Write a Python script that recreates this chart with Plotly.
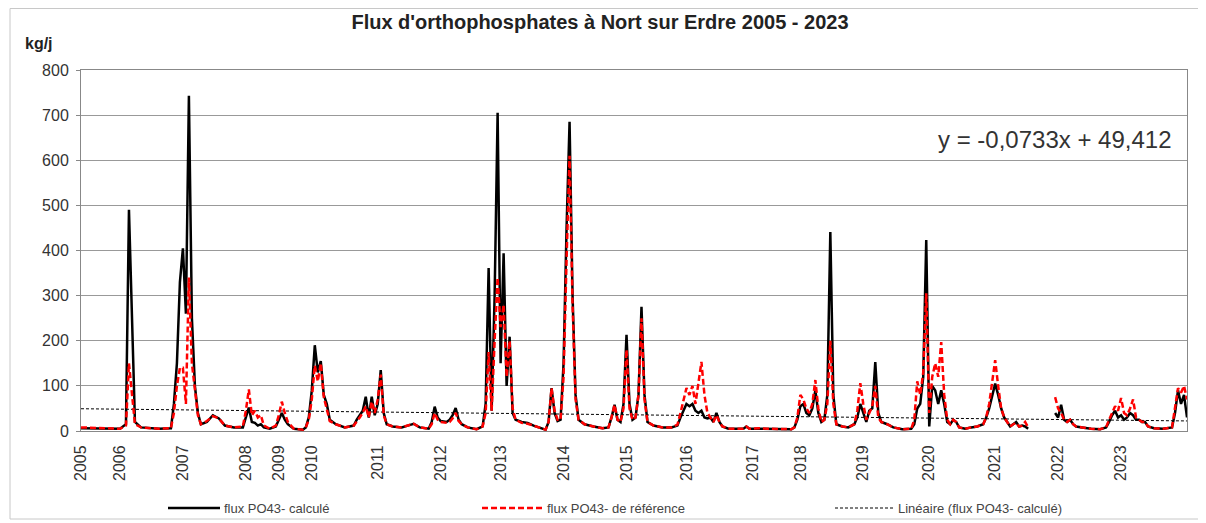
import plotly.graph_objects as go

# ---- data (sample number, values in kg/j) ----
years = ["2005", "2006", "2007", "2008", "2009", "2010", "2011", "2012", "2013", "2014",
         "2015", "2016", "2017", "2018", "2019", "2020", "2021", "2022", "2023"]
year_first_sample = [1, 14, 35, 56, 67, 78, 100, 121, 141, 162,
                     183, 203, 225, 241, 262, 284, 306, 327, 348]

sample_idx = [1, 7, 14, 16, 17, 19, 21, 27, 31, 32, 33, 34, 35, 36, 37, 38, 39, 40, 41, 43,
              45, 47, 49, 52, 55, 56, 57, 58, 59, 60, 61, 62, 64, 66, 67, 68, 69, 70, 72, 75,
              76, 77, 78, 79, 80, 81, 82, 83, 84, 86, 89, 92, 93, 94, 95, 96, 97, 98, 99, 100,
              101, 102, 103, 105, 108, 110, 112, 114, 117, 118, 119, 120, 121, 123, 124, 125, 126, 127, 128, 130,
              133, 135, 136, 137, 138, 139, 140, 141, 142, 143, 144, 145, 146, 148, 150, 152, 154, 156, 157, 158,
              159, 160, 161, 162, 163, 164, 165, 166, 167, 169, 172, 175, 177, 178, 179, 180, 181, 182, 183, 184,
              185, 186, 187, 188, 189, 190, 192, 195, 198, 200, 201, 202, 203, 204, 205, 206, 207, 208, 209, 210,
              211, 212, 213, 214, 215, 217, 222, 223, 224, 227, 230, 234, 238, 239, 240, 241, 242, 243, 244, 245,
              246, 247, 248, 249, 250, 251, 252, 253, 255, 257, 259, 260, 261, 262, 263, 264, 265, 266, 267, 268,
              270, 272, 275, 278, 279, 280, 281, 282, 283, 284, 285, 286, 287, 288, 289, 290, 291, 292, 293, 294,
              296, 298, 300, 302, 303, 304, 305, 306, 307, 308, 309, 310, 311, 312, 313, 314, 315, 316, 317, 318,
              326, 327, 328, 329, 330, 331, 332, 333, 335, 338, 341, 343, 344, 345, 346, 347, 348, 349, 350, 351,
              352, 353, 354, 355, 356, 357, 359, 362, 365, 366, 367, 368, 369, 370]

flux_calc = [6, 5, 5, 15, 490, 20, 8, 5, 6, 60, 150, 330, 405, 260, 743, 250, 100, 40, 15, 20,
             35, 28, 12, 8, 8, 30, 52, 20, 18, 12, 15, 8, 5, 10, 25, 40, 25, 15, 5, 3,
             8, 30, 90, 190, 130, 155, 80, 60, 25, 15, 8, 12, 25, 35, 45, 76, 30, 76, 35, 60,
             135, 40, 15, 10, 8, 12, 16, 8, 5, 20, 54, 30, 22, 20, 25, 35, 51, 25, 15, 8,
             4, 10, 60, 361, 45, 300, 705, 150, 394, 100, 209, 40, 25, 20, 18, 12, 8, 3, 20, 95,
             40, 22, 25, 150, 450, 685, 300, 80, 25, 15, 10, 6, 8, 30, 58, 25, 20, 60, 213, 60,
             25, 30, 80, 275, 80, 20, 12, 8, 8, 12, 30, 45, 60, 55, 60, 45, 40, 45, 30, 28,
             30, 20, 40, 20, 10, 5, 5, 10, 5, 5, 5, 4, 4, 8, 25, 55, 60, 40, 35, 50,
             90, 40, 20, 25, 80, 441, 80, 15, 10, 8, 15, 30, 60, 40, 20, 45, 50, 153, 40, 20,
             15, 8, 4, 5, 15, 50, 60, 120, 423, 10, 100, 90, 60, 90, 60, 20, 15, 25, 20, 8,
             5, 8, 10, 15, 30, 50, 80, 105, 80, 50, 30, 20, 10, 15, 20, 10, 12, 10, 5, None,
             40, 30, 58, 25, 20, 25, 15, 10, 8, 5, 4, 8, 20, 35, 45, 30, 35, 25, 30, 40,
             35, 25, 25, 20, 20, 10, 6, 5, 8, 40, 90, 60, 80, 30]

flux_ref = [8, 6, 5, 12, 150, 15, 8, 5, 6, 40, 100, 140, 140, 60, 340, 150, 90, 35, 15, 22,
            33, 28, 12, 8, 10, 45, 92, 35, 45, 30, 35, 12, 5, 12, 35, 65, 40, 20, 5, 3,
            8, 25, 70, 145, 110, 150, 75, 50, 22, 15, 8, 12, 20, 30, 40, 55, 30, 65, 40, 70,
            125, 35, 15, 10, 8, 12, 16, 8, 5, 15, 40, 25, 20, 18, 20, 28, 40, 22, 15, 8,
            4, 10, 40, 175, 45, 200, 340, 230, 280, 120, 200, 50, 25, 18, 16, 12, 8, 3, 20, 95,
            45, 25, 25, 120, 380, 610, 280, 70, 25, 15, 10, 6, 8, 30, 58, 25, 20, 50, 180, 50,
            25, 30, 80, 250, 70, 20, 12, 8, 8, 14, 40, 70, 95, 80, 100, 60, 110, 153, 80, 40,
            30, 20, 35, 20, 10, 5, 5, 10, 5, 6, 5, 4, 4, 8, 30, 80, 70, 50, 40, 60,
            113, 50, 20, 25, 60, 200, 60, 15, 10, 8, 15, 45, 106, 60, 25, 40, 55, 100, 30, 20,
            15, 8, 4, 5, 25, 110, 80, 130, 305, 40, 120, 150, 120, 197, 80, 25, 15, 25, 20, 8,
            5, 8, 10, 15, 30, 60, 110, 157, 100, 50, 30, 20, 10, 15, 18, 10, 12, 20, 8, None,
            75, 50, 40, 25, 20, 25, 15, 10, 8, 5, 4, 8, 25, 40, 55, 45, 73, 40, 35, 50,
            70, 30, 25, 20, 20, 10, 6, 5, 8, 50, 95, 85, 100, 70]

n_samples = 370
trend_slope = -0.0733
trend_intercept = 49.412

assert len(sample_idx) == len(flux_calc) == len(flux_ref)

trend_x = [1, n_samples]
trend_y = [trend_slope * x + trend_intercept for x in trend_x]

FONT = "Liberation Sans, Arial, sans-serif"

fig = go.Figure()
fig.add_trace(go.Scatter(x=trend_x, y=trend_y, mode="lines",
                         line=dict(color="#000000", width=1, dash="3px,2px"),
                         name="Linéaire (flux PO43- calculé)", showlegend=False))
fig.add_trace(go.Scatter(x=sample_idx, y=flux_calc, mode="lines", connectgaps=False,
                         line=dict(color="#000000", width=2.5),
                         name="flux PO43- calculé", showlegend=False))
fig.add_trace(go.Scatter(x=sample_idx, y=flux_ref, mode="lines", connectgaps=False,
                         line=dict(color="#ff0000", width=2.5, dash="6px,3px"),
                         name="flux PO43- de référence", showlegend=False))

# The page body adds an 8px offset; the figure is sized so that it fills the window.
OFF = 8
W, H = 1206 - OFF, 523 - OFF
# plot area in window pixels: x 81..1187, y 70..431
L, T = 81 - OFF, 70 - OFF
R = W - (1187 - OFF)
B = H - (431 - OFF)
PW, PH = W - L - R, H - T - B

def px(x):
    return (x - OFF - L) / PW

def py(y):
    return (H - B - (y - OFF)) / PH

shapes = [
    # outer chart frame
    dict(type="rect", xref="paper", yref="paper", x0=px(10), x1=px(1215), y0=py(519), y1=py(8.5),
         line=dict(color="#c8c8c8", width=1), layer="below"),
    # legend samples
    dict(type="line", xref="paper", yref="paper", x0=px(168), x1=px(220), y0=py(508), y1=py(508),
         line=dict(color="#000000", width=2.5)),
    dict(type="line", xref="paper", yref="paper", x0=px(482), x1=px(543), y0=py(508), y1=py(508),
         line=dict(color="#ff0000", width=2.5, dash="6px,3px")),
    dict(type="line", xref="paper", yref="paper", x0=px(835), x1=px(893), y0=py(508), y1=py(508),
         line=dict(color="#000000", width=1, dash="3px,2px")),
]

annotations = [
    dict(text="<b>kg/j</b>", xref="paper", yref="paper", x=px(39), y=py(43), showarrow=False,
         font=dict(family=FONT, size=16, color="#222222"), xanchor="center", yanchor="middle"),
    dict(text="y = -0,0733x + 49,412", xref="paper", yref="paper", x=px(1174), y=py(139),
         showarrow=False, font=dict(family=FONT, size=24, color="#333333"),
         xanchor="right", yanchor="middle"),
    dict(text="flux PO43- calculé", xref="paper", yref="paper", x=px(222), y=py(508),
         showarrow=False, font=dict(family=FONT, size=13, color="#444444"),
         xanchor="left", yanchor="middle"),
    dict(text="flux PO43- de référence", xref="paper", yref="paper", x=px(545), y=py(508),
         showarrow=False, font=dict(family=FONT, size=13, color="#444444"),
         xanchor="left", yanchor="middle"),
    dict(text="Linéaire (flux PO43- calculé)", xref="paper", yref="paper", x=px(896), y=py(508),
         showarrow=False, font=dict(family=FONT, size=13, color="#444444"),
         xanchor="left", yanchor="middle"),
]

fig.update_layout(
    template="none",
    width=W, height=H,
    margin=dict(l=L, r=R, t=T, b=B, autoexpand=False),
    paper_bgcolor="#ffffff", plot_bgcolor="#ffffff",
    title=dict(text="<b>Flux d'orthophosphates à Nort sur Erdre 2005 - 2023</b>",
               x=(600 - OFF) / W, xanchor="center", y=1 - (22 - OFF) / H, yanchor="middle",
               font=dict(family=FONT, size=20, color="#222222")),
    font=dict(family=FONT, color="#333333"),
    shapes=shapes, annotations=annotations,
    showlegend=False,
)
fig.update_xaxes(range=[1, n_samples], tickmode="array", tickvals=year_first_sample,
                 ticktext=years, tickangle=-90, showgrid=False, zeroline=False,
                 automargin=False,
                 showline=True, linecolor="#888888", linewidth=1, mirror=True,
                 ticks="outside", ticklen=7, tickcolor="rgba(0,0,0,0)",
                 tickfont=dict(family=FONT, size=16, color="#333333"))
fig.update_yaxes(range=[0, 800], dtick=100, showgrid=True, gridcolor="#999999", gridwidth=1,
                 zeroline=False, showline=True, linecolor="#888888", linewidth=1, mirror=True,
                 automargin=False, ticklabelstandoff=4,
                 ticks="outside", ticklen=4, tickcolor="#888888",
                 tickfont=dict(family=FONT, size=16, color="#333333"))

fig.write_html("out.html")
